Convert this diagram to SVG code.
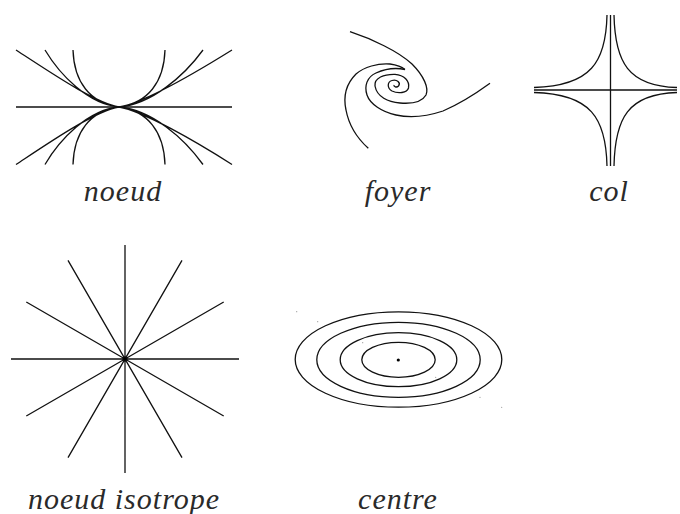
<svg xmlns="http://www.w3.org/2000/svg" width="680" height="514" viewBox="0 0 680 514">
<style>
.c{fill:none;stroke:#111;stroke-width:1.3;stroke-linecap:butt;stroke-linejoin:round}
.t{font-family:"Liberation Serif","DejaVu Serif",serif;font-style:italic;font-size:30px;letter-spacing:1px;fill:#2a2a2a;text-anchor:middle}
.sp{fill:#999}
</style>
<rect width="680" height="514" fill="#fff"/>
<g id="noeud">
<path class="c" d="M16,107H232"/>
<path class="c" d="M73,50C74,82 90,103 119,107M45,50C60,75 88,104 119,107M16,50C50,72 95,103 119,107"/>
<path class="c" d="M165,50C164,82 148,103 119,107M203,50C184,76 152,104 119,107M232,50C195,73 143,103 119,107"/>
<path class="c" d="M73,164.5C74,132 90,111 119,107M45,164.5C60,139 88,110 119,107M16,164.5C50,142 95,111 119,107"/>
<path class="c" d="M165,164.5C164,132 148,111 119,107M203,164.5C184,138 152,110 119,107M232,164.5C195,141 143,111 119,107"/>
<text class="t" x="123" y="201">noeud</text>
</g>
<g id="foyer">
<path class="c" d="M350,31.7C372,39 398,51 412,64C424,76 429,88 426,95C422,102 412,104 400,103C388,102 377,97 375,86C374,78 384,74 395,74.3C404,75 410,81 408.5,88C407,93 398,94 392,91C387,88 387,82 392,80.5C397,79 401,83 398.5,86C396.5,88 393.5,86.5 394,85"/>
<path class="c" d="M490,83.3C478,92 462,103 443,111C428,116 410,118 396,115C382,112 370,104 367,95C364,86 367,77 376,73C387,68 398,68 405,69.5"/>
<path class="c" d="M368.3,148.3C358,139 349,126 346,110C343,96 347,83 356,74C364,67 378,63 390,64C397,65 402,67 405,69.5"/>
<text class="t" x="398" y="201">foyer</text>
</g>
<g id="col">
<path class="c" d="M610.5,15V166M534,90H677"/>
<path class="c" d="M614,15C615,62 628,86 677,87.5M607,15C606,62 591,86 534,87.5M614,166C615,118 628,94 677,92.5M607,166C606,118 591,94 534,92.5"/>
<text class="t" x="609" y="201">col</text>
</g>
<g id="noeud-isotrope">
<path class="c" d="M11,359H239M125,245V473M26.3,302L223.7,416M26.3,416L223.7,302M68,260.3L182,457.7M68,457.7L182,260.3"/>
<circle cx="125" cy="359" r="1.8" fill="#000"/>
<text class="t" x="124" y="509">noeud isotrope</text>
</g>
<g id="centre">
<ellipse class="c" cx="398.5" cy="359.5" rx="103.3" ry="47.7"/>
<ellipse class="c" cx="398.5" cy="359.8" rx="81.7" ry="37.5"/>
<ellipse class="c" cx="398.5" cy="359.7" rx="58.3" ry="27"/>
<ellipse class="c" cx="398.5" cy="359.8" rx="36.7" ry="17.5"/>
<circle cx="398.3" cy="360" r="1.6" fill="#000"/>
<circle class="sp" cx="296.7" cy="311.7" r="0.6"/>
<circle class="sp" cx="317.7" cy="321.7" r="0.6"/>
<circle class="sp" cx="362.7" cy="342.7" r="0.6"/>
<circle class="sp" cx="435.7" cy="377.3" r="0.6"/>
<circle class="sp" cx="480" cy="397.3" r="0.6"/>
<circle class="sp" cx="501.7" cy="407.3" r="0.6"/>
<text class="t" x="398" y="509">centre</text>
</g>
</svg>
